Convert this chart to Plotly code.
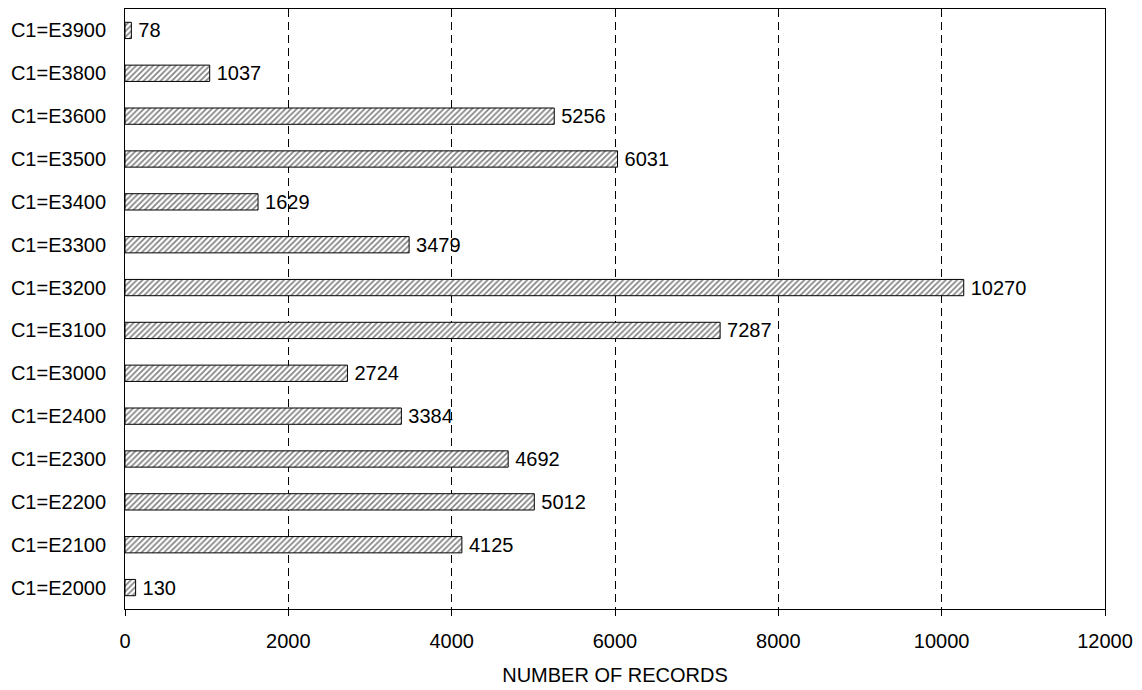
import plotly.graph_objects as go

categories = ["C1=E2000", "C1=E2100", "C1=E2200", "C1=E2300", "C1=E2400", "C1=E3000",
              "C1=E3100", "C1=E3200", "C1=E3300", "C1=E3400", "C1=E3500", "C1=E3600",
              "C1=E3800", "C1=E3900"]
values = [130, 4125, 5012, 4692, 3384, 2724, 7287, 10270, 3479, 1629, 6031, 5256, 1037, 78]
x_ticks = [0, 2000, 4000, 6000, 8000, 10000, 12000]

FONT = "Liberation Sans, Arial, sans-serif"
FS = 20

fig = go.Figure(go.Bar(
    x=values, y=categories, orientation="h",
    width=0.38,
    marker=dict(color="white", line=dict(color="black", width=1),
                pattern=dict(shape="/", fgcolor="black", bgcolor="white", size=4, solidity=0.4)),
    text=["\u2009" + str(v) for v in values], textposition="outside", cliponaxis=False,
    constraintext="none",
    textfont=dict(family=FONT, size=FS, color="black"),
))

fig.update_layout(
    width=1142, height=690,
    margin=dict(l=117, r=45, t=1, b=89),
    plot_bgcolor="white", paper_bgcolor="white",
    font=dict(family=FONT, size=FS, color="black"),
    showlegend=False,
    xaxis=dict(range=[0, 12000], tickvals=x_ticks, ticktext=[str(t) for t in x_ticks],
               showgrid=True, gridcolor="black", gridwidth=1, griddash="8px,5px",
               showline=True, linecolor="black", linewidth=1, mirror=True,
               ticks="outside", ticklen=6, tickcolor="black", zeroline=False,
               ticklabelstandoff=8,
               title=dict(text="NUMBER OF RECORDS", font=dict(family=FONT, size=FS), standoff=16)),
    yaxis=dict(type="category", categoryorder="array", categoryarray=categories,
               showline=True, linecolor="black", linewidth=1, mirror=True,
               showgrid=False, ticks="", ticklabelstandoff=14),
)

fig.write_html("out.html")
